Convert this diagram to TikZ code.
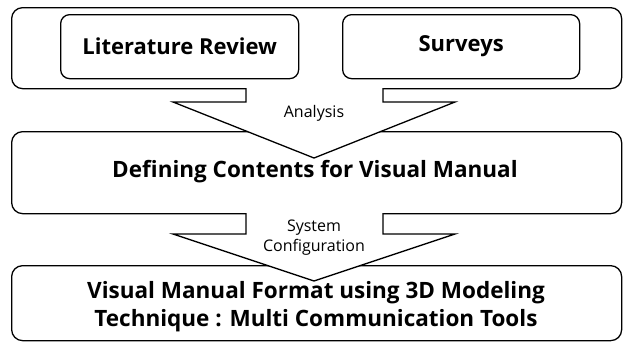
\documentclass[tikz,border=0pt]{standalone}
\usepackage{fontspec}
\setmainfont{Open Sans}
\begin{document}
\begin{tikzpicture}[x=1pt,y=-1pt,
  box/.style={draw=black,line width=1.3pt,rounded corners=11pt,inner sep=0pt,anchor=north west},
  inbox/.style={draw=black,line width=1.3pt,rounded corners=9pt,inner sep=0pt,anchor=north west},
  big/.style={font=\bfseries\fontsize{22}{30}\selectfont},
  small/.style={font=\fontsize{16}{20}\selectfont,align=center},
  bigarrow/.style={draw=black,fill=white,line width=1.3pt,line join=miter}]
\useasboundingbox (0,0) rectangle (624,343);
% boxes
\node[box,minimum width=610pt,minimum height=81pt] (top) at (11,7) {};
\node[inbox,minimum width=238pt,minimum height=64pt] (lit) at (60,14) {};
\node[inbox,minimum width=237pt,minimum height=64pt] (sur) at (342,14) {};
\node[big] (littext) at (lit.center) {Literature Review};
\node[big] (surtext) at (sur.center) {Surveys};
\node[box,minimum width=610pt,minimum height=82pt] (mid) at (11,131) {};
\node[box,minimum width=610pt,minimum height=75pt] (bot) at (11,265) {};
% arrows
\draw[bigarrow] (246,88) -- (246,102) -- (173,102) -- (314,158) -- (455,102) -- (383,102) -- (383,88);
\draw[bigarrow] (246,213) -- (246,234) -- (173,234) -- (314,281) -- (455,234) -- (383,234) -- (383,213);
\node[small] (ana) at (314,113) {Analysis};
\node[small] (sys) at (314,238) {System\\Configuration};
\node[big,font=\bfseries\fontsize{22.5}{30}\selectfont] (midtext) at (315,172) {Defining Contents for Visual Manual};
\node[big,align=center,font=\bfseries\fontsize{22.5}{28}\selectfont] (bottext) at (316,307) {Visual Manual Format using 3D Modeling\\Technique : Multi Communication Tools};
\end{tikzpicture}
\end{document}
